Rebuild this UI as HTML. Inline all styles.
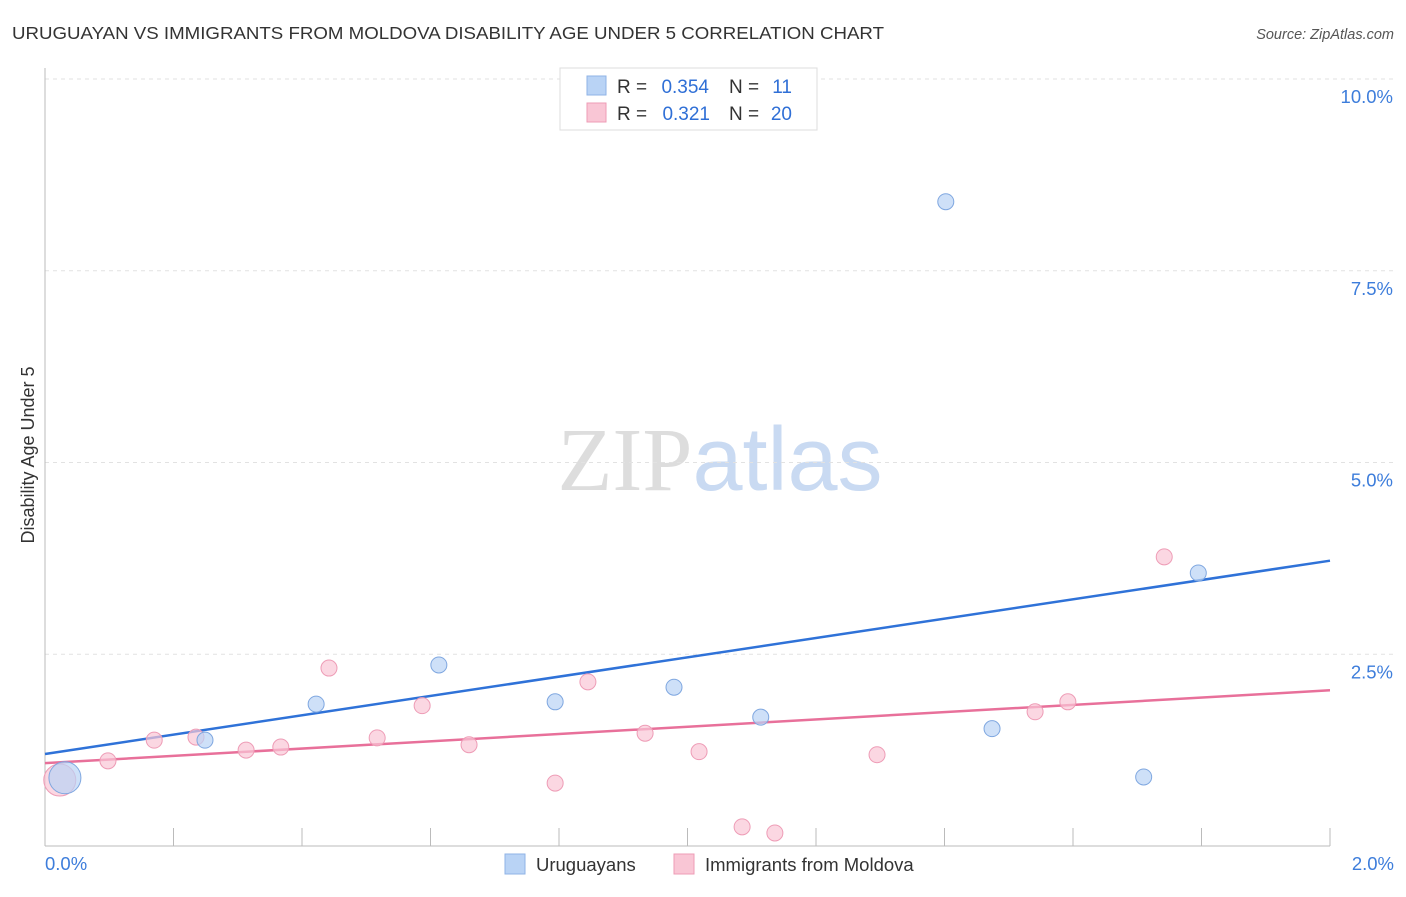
<!DOCTYPE html>
<html><head><meta charset="utf-8"><style>
body{margin:0;background:#fff;font-family:"Liberation Sans",sans-serif;}
svg text{font-family:"Liberation Sans",sans-serif;}
</style></head><body>
<svg id="chart" width="1406" height="892" xmlns="http://www.w3.org/2000/svg">
<text x="12" y="39" font-size="17.5" fill="#333" textLength="872" lengthAdjust="spacingAndGlyphs">URUGUAYAN VS IMMIGRANTS FROM MOLDOVA DISABILITY AGE UNDER 5 CORRELATION CHART</text>
<text x="1394" y="39" font-size="14.5" fill="#555" text-anchor="end" font-style="italic">Source: ZipAtlas.com</text>
<text x="720" y="490" font-size="90" text-anchor="middle"><tspan fill="#ddd" font-family="Liberation Serif">ZIP</tspan><tspan fill="#c9daf2">atlas</tspan></text>
<text transform="translate(34,455) rotate(-90)" font-size="18" fill="#333" text-anchor="middle">Disability Age Under 5</text>
<g id="grid"></g><g id="axes"></g><g id="lines"></g><g id="points"></g>
<g>
<rect x="560" y="68" width="257" height="62" fill="#fff" stroke="#ddd"/>
<rect x="587" y="76" width="19" height="19" fill="#b9d3f5" stroke="#8fb3e6"/>
<text x="617" y="93" font-size="19" fill="#333">R =</text>
<text x="709" y="93" font-size="19" fill="#2f6fd6" text-anchor="end">0.354</text>
<text x="729" y="93" font-size="19" fill="#333">N =</text>
<text x="792" y="93" font-size="19" fill="#2f6fd6" text-anchor="end">11</text>
<rect x="587" y="103" width="19" height="19" fill="#f9c6d5" stroke="#ee9cb6"/>
<text x="617" y="120" font-size="19" fill="#333">R =</text>
<text x="710" y="120" font-size="19" fill="#2f6fd6" text-anchor="end">0.321</text>
<text x="729" y="120" font-size="19" fill="#333">N =</text>
<text x="792" y="120" font-size="19" fill="#2f6fd6" text-anchor="end">20</text>
</g>
<g>
<rect x="505" y="854" width="20" height="20" fill="#b9d3f5" stroke="#8fb3e6"/>
<text x="536" y="871" font-size="18.5" fill="#333">Uruguayans</text>
<rect x="674" y="854" width="20" height="20" fill="#f9c6d5" stroke="#ee9cb6"/>
<text x="705" y="871" font-size="18.5" fill="#333">Immigrants from Moldova</text>
</g>
</svg>
<script>
const blueX=[0.031,0.249,0.422,0.613,0.794,0.979,1.114,1.402,1.474,1.710,1.795];
const blueY=[0.89,1.38,1.85,2.36,1.88,2.07,1.68,8.40,1.53,0.90,3.56];
const pinkX=[0.023,0.098,0.170,0.235,0.313,0.367,0.442,0.517,0.587,0.660,0.794,0.845,0.934,1.018,1.085,1.136,1.295,1.541,1.592,1.742];
const pinkY=[0.86,1.11,1.38,1.42,1.25,1.29,2.32,1.41,1.83,1.32,0.82,2.14,1.47,1.23,0.25,0.17,1.19,1.75,1.88,3.77];
const blueTrend=[1.20,3.72];
const pinkTrend=[1.08,2.03];
const yTicks=[2.5,5.0,7.5,10.0];
const yTickLabels=["2.5%","5.0%","7.5%","10.0%"];
const xLabels=["0.0%","2.0%"];
const NS="http://www.w3.org/2000/svg";
const sx=v=>45+v/2*1285, sy=v=>846-v*76.7;
function mk(tag,attrs,parent){const e=document.createElementNS(NS,tag);for(const k in attrs)e.setAttribute(k,attrs[k]);document.getElementById(parent).appendChild(e);return e;}
yTicks.forEach((t,i)=>{
 const g=mk('line',{x1:45,x2:1394,y1:sy(t),y2:sy(t),stroke:'#e2e2e2','stroke-dasharray':'4,4'},'grid');
 
 
 const l=mk('text',{x:1393,y:sy(t)+24,'font-size':18.5,fill:'#3d7ddb','text-anchor':'end'},'axes');l.textContent=yTickLabels[i];
 
 
});
const ax=mk('line',{x1:45,x2:1330,y1:846,y2:846,stroke:'#bbb'},'axes');


const ay=mk('line',{x1:45,x2:45,y1:68,y2:846,stroke:'#bbb'},'axes');


for(let i=0;i<=10;i++){const t=mk('line',{x1:sx(i*0.2),x2:sx(i*0.2),y1:828,y2:846,stroke:'#bbb'},'axes');
 
 }
[[0,'start',45],[2,'end',1394]].forEach((d,i)=>{const l=mk('text',{x:d[2],y:870,'font-size':18.5,fill:'#3d7ddb','text-anchor':d[1]},'axes');l.textContent=xLabels[i];
 
 });
const bl=mk('line',{x1:sx(0),y1:sy(blueTrend[0]),x2:sx(2),y2:sy(blueTrend[1]),stroke:'#2f72d8','stroke-width':2.5},'lines');


const pl=mk('line',{x1:sx(0),y1:sy(pinkTrend[0]),x2:sx(2),y2:sy(pinkTrend[1]),stroke:'#e8709a','stroke-width':2.5},'lines');


pinkX.forEach((x,i)=>{const c=mk('circle',{cx:sx(x),cy:sy(pinkY[i]),r:i==0?16:8,fill:'#f9c6d5','fill-opacity':0.7,stroke:'#ee9cb6'},'points');
 
 });
blueX.forEach((x,i)=>{const c=mk('circle',{cx:sx(x),cy:sy(blueY[i]),r:i==0?16:8,fill:'#b9d3f5','fill-opacity':0.7,stroke:'#7fa7e0'},'points');
 
 });
</script>
</body></html>
